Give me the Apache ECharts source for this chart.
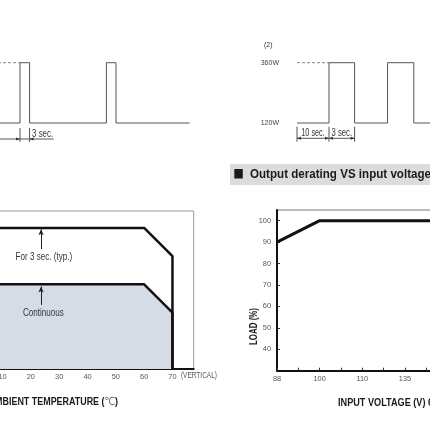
<!DOCTYPE html>
<html>
<head>
<meta charset="utf-8">
<script src="https://cdn.jsdelivr.net/npm/echarts@6/dist/echarts.min.js"></script>
<style>html,body{margin:0;padding:0;background:#fff}#main{width:430px;height:430px}</style>
</head>
<body>
<div id="main"></div>
<script>
// pulse load waveforms (watts over time)
var pulse1Time = [-10, 0, 0, 3, 3, 27, 27, 30, 30, 53];
var pulse1Watt = [120, 120, 360, 360, 120, 120, 360, 360, 120, 120];
var pulse2Time = [0, 10, 10, 18, 18, 28.3, 28.3, 36.5, 36.5, 45];
var pulse2Watt = [120, 120, 360, 360, 120, 120, 360, 360, 120, 120];
var wattTicks = [120, 360];
var dimTicks1 = [0, 3];
var dimTicks2 = [0, 10, 18];
var dimText2 = ['10 sec.', '3 sec.'];

// derating curve vs ambient temperature
var tempPoints = [0, 60, 70, 70];
var peakLoad = [100, 100, 80, 0];
var contLoad = [60, 60, 40, 0];
var tempTicks = [0, 10, 20, 30, 40, 50, 60, 70];
var tempLoadTicks = [20, 40, 60, 80, 100];
var noteText = ['For 3 sec. (typ.)', 'Continuous'];
var notePos = [[24.6, 79.6], [24.4, 39.7]];
var noteArrows = [[23.6, 85, 99], [23.6, 45.4, 58.5]];

// output derating vs input voltage
var voltLabels = ['88', '', '100', '', '110', '', '135', '', '', ''];
var voltIdx = [0, 2, 9.4];
var voltLoad = [90, 100, 100];
var loadTicks = [40, 50, 60, 70, 80, 90, 100];

var FAM = '"Liberation Sans",Arial,sans-serif';
var ctx = document.createElement('canvas').getContext('2d');
function measure(text, size, bold) {
  ctx.font = (bold ? 'bold ' : '') + size + 'px ' + FAM;
  return ctx.measureText(text).width;
}
function zip(a, b) { return a.map(function (v, i) { return [v, b[i]]; }); }

var fsTick = 7.4;

var myChart = echarts.init(document.getElementById('main'));

var option = {
  animation: false,
  textStyle: { fontFamily: FAM },
  grid: [
    { left: -12, top: 62.7, width: 224, height: 60.3, outerBoundsMode: 'none' },
    { left: 297, top: 62.7, width: 144, height: 60.3, outerBoundsMode: 'none' },
    { left: -25.8, top: 211, width: 219.5, height: 158, show: true, borderColor: '#999', borderWidth: 1, outerBoundsMode: 'none' },
    { left: 277, top: 210, width: 200.5, height: 160.7, show: true, borderColor: '#777', borderWidth: 1, outerBoundsMode: 'none' }
  ],
  xAxis: [
    { gridIndex: 0, type: 'value', min: -10, max: 60, show: false },
    { gridIndex: 1, type: 'value', min: 0, max: 45, show: false },
    {
      gridIndex: 2, type: 'value', min: 0, max: 77.5,
      axisLine: { lineStyle: { color: '#111', width: 2 } },
      axisTick: { inside: true, length: 3, customValues: tempTicks, lineStyle: { color: '#555' } },
      axisLabel: { customValues: tempTicks, fontSize: fsTick, color: '#555', margin: 4 },
      splitLine: { show: false }
    },
    {
      gridIndex: 3, type: 'value', min: 0, max: 9.4,
      axisLine: { lineStyle: { color: '#111', width: 2 } },
      axisTick: { inside: true, length: 3, customValues: [0, 1, 2, 3, 4, 5, 6, 7, 8, 9], lineStyle: { color: '#333' } },
      axisLabel: {
        customValues: [0, 2, 4, 6, 8], fontSize: fsTick, color: '#555', margin: 5,
        formatter: function (v) { return voltLabels[v] || ''; }
      },
      splitLine: { show: false }
    }
  ],
  yAxis: [
    { gridIndex: 0, type: 'value', min: 120, max: 360, show: false },
    {
      gridIndex: 1, type: 'value', min: 120, max: 360,
      axisLine: { show: false }, axisTick: { show: false }, splitLine: { show: false },
      axisLabel: { customValues: wattTicks, formatter: '{value}W', fontSize: 7, color: '#444', margin: 18 }
    },
    {
      gridIndex: 2, type: 'value', min: 0, max: 112, position: 'right',
      axisLine: { show: true, lineStyle: { color: '#999', width: 1 } },
      axisTick: { inside: true, length: 3, customValues: tempLoadTicks, lineStyle: { color: '#666' } },
      axisLabel: { show: false },
      splitLine: { show: false }
    },
    {
      gridIndex: 3, type: 'value', min: 30, max: 105,
      axisLine: { lineStyle: { color: '#111', width: 2 } },
      axisTick: { inside: true, length: 3, customValues: loadTicks, lineStyle: { color: '#333' } },
      axisLabel: { customValues: loadTicks, fontSize: fsTick, color: '#555', margin: 6 },
      splitLine: { show: false }
    }
  ],
  series: [
    {
      type: 'line', xAxisIndex: 0, yAxisIndex: 0, symbol: 'none', clip: false,
      data: [[pulse1Time[0], pulse1Watt[2]], [pulse1Time[1], pulse1Watt[2]]],
      lineStyle: { color: '#888', width: 1, type: [3, 2] }
    },
    {
      type: 'line', xAxisIndex: 0, yAxisIndex: 0, symbol: 'none', clip: false,
      data: zip(pulse1Time, pulse1Watt), lineStyle: { color: '#555', width: 1 }
    },
    {
      type: 'line', xAxisIndex: 1, yAxisIndex: 1, symbol: 'none', clip: false,
      data: [[pulse2Time[0], pulse2Watt[2]], [pulse2Time[1], pulse2Watt[2]]],
      lineStyle: { color: '#888', width: 1, type: [3, 2] }
    },
    {
      type: 'line', xAxisIndex: 1, yAxisIndex: 1, symbol: 'none', clip: false,
      data: zip(pulse2Time, pulse2Watt), lineStyle: { color: '#555', width: 1 }
    },
    {
      type: 'line', xAxisIndex: 2, yAxisIndex: 2, symbol: 'none', clip: false,
      data: zip(tempPoints, contLoad),
      lineStyle: { color: '#111', width: 2.5 },
      areaStyle: { color: '#d5dce5', opacity: 1 }
    },
    {
      type: 'line', xAxisIndex: 2, yAxisIndex: 2, symbol: 'none', clip: false,
      data: zip(tempPoints, peakLoad),
      lineStyle: { color: '#111', width: 2.5 },
      markLine: {
        silent: true, symbol: ['none', 'arrow'], symbolSize: [4, 6],
        label: { show: false },
        lineStyle: { color: '#222', width: 1, type: 'solid' },
        data: noteArrows.map(function (a) { return [{ coord: [a[0], a[1]] }, { coord: [a[0], a[2]] }]; })
      }
    },
    {
      type: 'line', xAxisIndex: 3, yAxisIndex: 3, symbol: 'none', clip: false,
      data: zip(voltIdx, voltLoad),
      lineStyle: { color: '#111', width: 3 }
    }
  ]
};

myChart.setOption(option);

// annotations placed through the grids' own scales
function px(g, x, y) { return myChart.convertToPixel({ gridIndex: g }, [x, y]); }
function seg(x1, y1, x2, y2, c, w) {
  return { type: 'line', silent: true, z: 10, shape: { x1: x1, y1: y1, x2: x2, y2: y2 }, style: { stroke: c, lineWidth: w } };
}
function arrow(x, y, dir) {
  return { type: 'polygon', silent: true, z: 10, shape: { points: [[x, y], [x - dir * 4, y - 1.5], [x - dir * 4, y + 1.5]] }, style: { fill: '#333' } };
}
// narrow-looking text: horizontally squeezed to the width seen in the sheet
function ntxt(s, x, y, size, w, align, o) {
  o = o || {};
  var sx = w / measure(s, size, o.bold);
  return {
    type: 'text', silent: true, z: 10, x: x, y: y, scaleX: sx, rotation: o.rotation || 0,
    style: {
      text: s, x: 0, y: 0, fontSize: size, fontFamily: FAM, fontWeight: o.bold ? 'bold' : 'normal',
      fill: o.fill || '#333', align: align, verticalAlign: 'middle'
    }
  };
}

var g = [];
// dimension marks, waveform 1
var a1 = px(0, dimTicks1[0], pulse1Watt[0]);
var b1 = px(0, dimTicks1[1], pulse1Watt[0]);
var dy1 = a1[1] + 16;
g.push(seg(a1[0], a1[1] + 5, a1[0], a1[1] + 19, '#555', 1));
g.push(seg(b1[0], b1[1] + 5, b1[0], b1[1] + 19, '#555', 1));
g.push(seg(a1[0] - 22, dy1, b1[0] + 24, dy1, '#555', 1));
g.push(arrow(a1[0], dy1, 1), arrow(b1[0], dy1, -1));
g.push(ntxt('3 sec.', b1[0] + 2.5, dy1 - 5, 10, 21, 'left'));

// dimension marks, waveform 2
var ps = dimTicks2.map(function (t) { return px(1, t, pulse2Watt[0]); });
var dy2 = ps[0][1] + 15.3;
ps.forEach(function (p) { g.push(seg(p[0], p[1] + 3.7, p[0], p[1] + 18.7, '#555', 1)); });
g.push(seg(ps[0][0], dy2, ps[2][0], dy2, '#555', 1));
g.push(arrow(ps[0][0], dy2, -1), arrow(ps[1][0], dy2, 1), arrow(ps[1][0], dy2, -1), arrow(ps[2][0], dy2, 1));
dimText2.forEach(function (s, i) {
  g.push(ntxt(s, (ps[i][0] + ps[i + 1][0]) / 2, dy2 - 5, 10, [23.3, 20.7][i], 'center'));
});
g.push(ntxt('(2)', 264, 45, 8, 8.5, 'left'));

// temperature chart notes and labels
noteText.forEach(function (s, i) {
  var p = px(2, notePos[i][0], notePos[i][1]);
  g.push(ntxt(s, p[0], p[1], 10.5, [56.6, 40.7][i], 'center'));
});
var v70 = px(2, 73, 0);
g.push(ntxt('(VERTICAL)', v70[0], v70[1] + 6.5, 8.2, 36, 'left', { fill: '#555' }));
var ts = 102 / measure('BIENT TEMPERATURE (', 10.5, true);
g.push({
  type: 'text', silent: true, z: 10, x: 118, y: 402, scaleX: ts,
  style: {
    text: '{b|AMBIENT TEMPERATURE (}{c|℃}{b|)}', x: 0, y: 0, align: 'right', verticalAlign: 'middle',
    rich: {
      b: { fontSize: 10.5, fontWeight: 'bold', fontFamily: FAM, fill: '#1a1a1a' },
      c: { fontSize: 11, fontFamily: '"DejaVu Sans"', fill: '#666' }
    }
  }
});

// voltage chart labels
g.push(ntxt('LOAD (%)', 254, 326.5, 11, 37, 'center', { bold: true, fill: '#1a1a1a', rotation: Math.PI / 2 }));
g.push(ntxt('INPUT VOLTAGE (V) 60Hz', 338, 402.5, 11.5, 90 * measure('INPUT VOLTAGE (V) 60Hz', 11.5, true) / measure('INPUT VOLTAGE (V) ', 11.5, true), 'left', { bold: true, fill: '#1a1a1a' }));
g.push({ type: 'rect', silent: true, z: 1, shape: { x: 230, y: 164, width: 210, height: 21 }, style: { fill: '#dcdcdc' } });
g.push({ type: 'rect', silent: true, z: 10, shape: { x: 234.3, y: 169, width: 8.5, height: 9.5 }, style: { fill: '#1a1a1a' } });
g.push(ntxt('Output derating VS input voltage', 250, 174.3, 13.5, 181, 'left', { bold: true, fill: '#1a1a1a' }));

myChart.setOption({ graphic: g });
</script>
</body>
</html>
